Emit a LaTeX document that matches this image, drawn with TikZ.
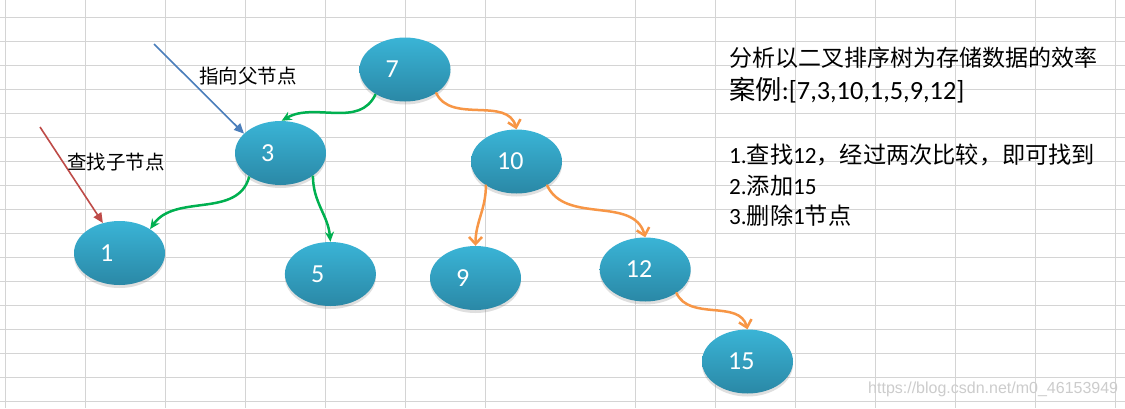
\documentclass[tikz,border=0pt]{standalone}
\usepackage{fontspec}
\setmainfont{Carlito}
\newfontfamily\cjk{Noto Sans CJK SC}
\newfontfamily\urlfont{Liberation Sans}
\usetikzlibrary{arrows.meta,shapes.geometric,shadows}

\definecolor{gridgray}{HTML}{D4D4D4}
\definecolor{nodetop}{HTML}{3AB4D6}
\definecolor{nodebottom}{HTML}{2A88A6}
\definecolor{linkgreen}{HTML}{00B050}
\definecolor{linkorange}{HTML}{F79646}
\definecolor{noteblue}{HTML}{4A7EBB}
\definecolor{notered}{HTML}{BE4B48}

\begin{document}
\begin{tikzpicture}[x=1pt, y=1pt]
    % Define styles
    \tikzset{
        gridline/.style={
            gridgray,
            line width=1pt
        },
        treenode/.style={
            ellipse,
            minimum width=91pt,
            minimum height=64pt,
            inner sep=0pt,
            top color=nodetop,
            bottom color=nodebottom,
            drop shadow={opacity=0.25, shadow xshift=0pt, shadow yshift=-3pt}
        },
        value/.style={
            anchor=west,
            inner sep=0pt,
            text=white,
            font=\fontsize{26}{31}\selectfont
        },
        greenlink/.style={
            linkgreen,
            line width=2.5pt,
            -{Stealth[length=10pt, width=9pt]}
        },
        orangelink/.style={
            linkorange,
            line width=2.5pt,
            line cap=round,
            -{Straight Barb[length=7pt, width=13pt]}
        },
        note/.style={
            inner sep=0pt,
            font=\cjk\fontsize{19.5}{24}\selectfont
        },
        textline/.style={
            anchor=base west,
            inner sep=0pt
        }
    }

    % Background and spreadsheet grid
    \fill[white] (0,0) rectangle (1125,-408);
    \useasboundingbox (0,0) rectangle (1125,-408);
    \foreach \gx in {5.7,85.7,165.7,245.7,325.7,405.7,485.7,635.7,715.7,795.7,875.7,955.7,1035.7,1115.7}
        \draw[gridline] (\gx,0) -- (\gx,-408);
    \foreach \gy in {17.3,41.3,...,402}
        \draw[gridline] (0,-\gy) -- (1125,-\gy);

    % Tree nodes
    \foreach \name/\x/\y/\val in {n7/405/69.5/7, n3/280.5/153/3, n1/119.5/253/1, n5/330.4/274/5,
                                  n9/475.5/278/9, n10/516.5/161.5/10, n12/645.2/269.5/12, n15/747.5/361.5/15} {
        \node[treenode] (\name) at (\x,-\y) {};
        \node[value] (t\name) at ([xshift=-19.5pt]\name.center) {\val};
    }

    % Links between parent and child
    \draw[greenlink] (n7.220) to[out=-115, in=30] (n3.88);
    \draw[greenlink] (n3.217) to[out=-105, in=55] (n1.38);
    \draw[greenlink] (n3.-35) to[out=-90, in=95] (n5.north);
    \draw[orangelink] (n7.-37) to[out=-65, in=105] (n10.north);
    \draw[orangelink] (n10.218) to[out=-90, in=90] (n9.north);
    \draw[orangelink] (n10.-38) to[out=-65, in=105] (n12.north);
    \draw[orangelink] (n12.-37) to[out=-65, in=105] (n15.north);

    % Pointer notes
    \coordinate (bluestart) at (154,-44);
    \coordinate (redstart) at (40,-127);
    \draw[noteblue, line width=1.6pt, -{Triangle[length=10pt, width=9pt]}] (bluestart) -- (n3.152);
    \draw[notered, line width=1.6pt, -{Triangle[length=10pt, width=9pt]}] (redstart) -- (n1.119);
    \node[note] (parentnote) at (248,-76) {指向父节点};
    \node[note] (childnote) at (116,-162.5) {查找子节点};

    % Description
    \node[textline, font=\cjk\fontsize{23}{28}\selectfont] (title) at (729,-66.5) {分析以二叉排序树为存储数据的效率};
    \node[textline, font=\fontsize{26.3}{31}\selectfont] (case) at (729,-99.5) {{\cjk 案例}:[7,3,10,1,5,9,12]};
    \node[textline, font=\fontsize{23.2}{27}\selectfont] (stepa) at (729,-163.5) {1.{\cjk 查找}12{\cjk ，经过两次比较，即可找到}};
    \node[textline, font=\fontsize{23.2}{27}\selectfont] (stepb) at (729,-194) {2.{\cjk 添加}15};
    \node[textline, font=\fontsize{23.2}{27}\selectfont] (stepc) at (729,-224.3) {3.{\cjk 删除}1{\cjk 节点}};

    % Watermark
    \node[textline, text=black!20, font=\urlfont\fontsize{16}{19}\selectfont] (watermark) at (868,-393) {https://blog.csdn.net/m0\_46153949};
\end{tikzpicture}
\end{document}
